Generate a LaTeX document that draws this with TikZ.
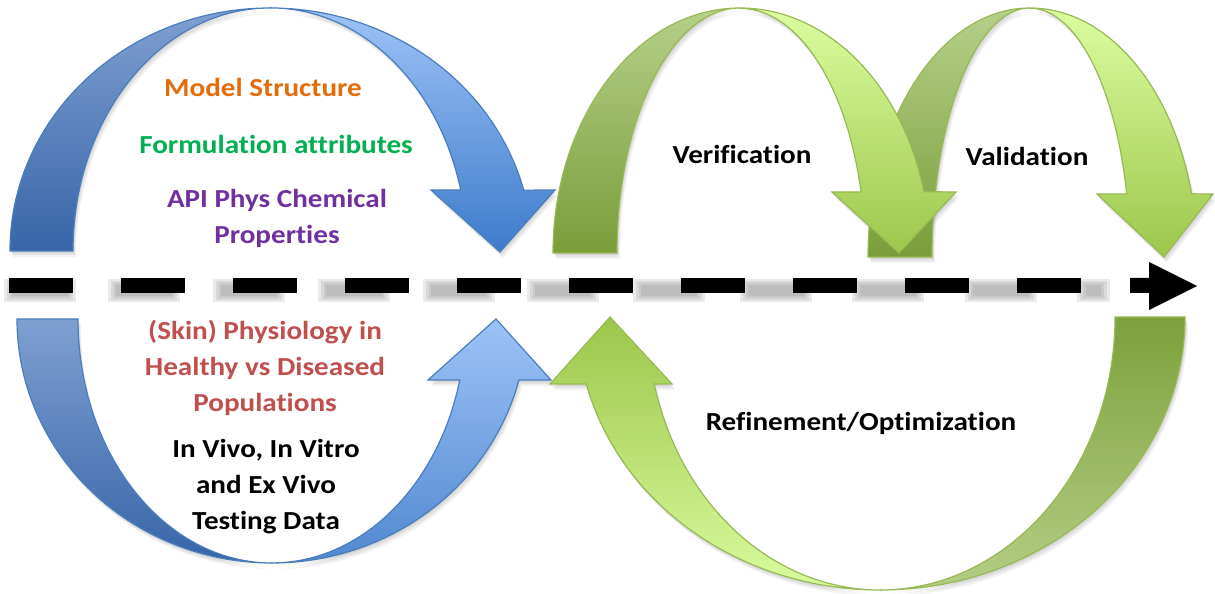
\documentclass[tikz,border=0pt]{standalone}
\usepackage{fontspec}
\setmainfont{Carlito}[FakeStretch=1.12, Ligatures={NoCommon}]
\definecolor{bLtop}{HTML}{7F9FD1}
\definecolor{bLbot}{HTML}{3765A8}
\definecolor{bRtop}{HTML}{9DC3F7}
\definecolor{bRbot}{HTML}{3E7BCB}
\definecolor{bEdge}{HTML}{4A7EBB}
\definecolor{gLtop}{HTML}{B5D08A}
\definecolor{gLbot}{HTML}{7A9D3A}
\definecolor{gRtop}{HTML}{DCFDA0}
\definecolor{gRbot}{HTML}{9CC74C}
\definecolor{gEdge}{HTML}{98B954}
\definecolor{rLtop}{HTML}{9CC64B}
\definecolor{rLbot}{HTML}{D9FB9E}
\definecolor{rRtop}{HTML}{7DA13C}
\definecolor{rRbot}{HTML}{B4CE86}
\definecolor{cOrange}{HTML}{E46C0A}
\definecolor{cGreen}{HTML}{00B050}
\definecolor{cPurple}{HTML}{7030A0}
\definecolor{cRed}{HTML}{C0504D}
\definecolor{dashShadow}{HTML}{808080}
% blue top arrow
\newcommand\pBTL{(10,343) arc[start angle=180,end angle=90,x radius=260pt,y radius=243pt] arc[start angle=90,end angle=180,x radius=197pt,y radius=243pt] -- cycle}
\newcommand\pBTR{(270,586) arc[start angle=90,end angle=14.5,x radius=262pt,y radius=243pt] -- (555,404) -- (500,342) -- (431,404) -- (460.7,404) arc[start angle=14.5,end angle=90,x radius=197pt,y radius=243pt] -- cycle}
% blue bottom arrow
\newcommand\pBBL{(17,275) arc[start angle=180,end angle=270,x radius=255pt,y radius=244pt] arc[start angle=270,end angle=180,x radius=194pt,y radius=244pt] -- cycle}
\newcommand\pBBR{(272,31) arc[start angle=270,end angle=345.5,x radius=255pt,y radius=244pt] -- (551,214) -- (496,275) -- (428,214) -- (459.8,214) arc[start angle=345.5,end angle=270,x radius=194pt,y radius=244pt] -- cycle}
% verification arrow
\newcommand\pVeL{(553,341) arc[start angle=180,end angle=90,x radius=187pt,y radius=245pt] arc[start angle=90,end angle=180,x radius=123pt,y radius=245pt] -- cycle}
\newcommand\pVeR{(740,586) arc[start angle=90,end angle=14.5,x radius=190pt,y radius=245pt] -- (956,402) -- (899,341) -- (832,402) -- (861,402) arc[start angle=14.5,end angle=90,x radius=125pt,y radius=245pt] -- cycle}
% validation arrow
\newcommand\pVaL{(868,337) arc[start angle=180,end angle=90,x radius=162pt,y radius=249pt] arc[start angle=90,end angle=180,x radius=98pt,y radius=249pt] -- cycle}
\newcommand\pVaR{(1030,586) arc[start angle=90,end angle=14.7,x radius=167pt,y radius=249pt] -- (1213,400) -- (1164,337) -- (1097,400) -- (1126.7,400) arc[start angle=14.7,end angle=90,x radius=100pt,y radius=249pt] -- cycle}
% refinement arrow
\newcommand\pReR{(1185,277) arc[start angle=0,end angle=-90,x radius=305pt,y radius=273pt] arc[start angle=-90,end angle=0,x radius=235pt,y radius=273pt] -- cycle}
\newcommand\pReL{(880,4) arc[start angle=270,end angle=194.2,x radius=303pt,y radius=273pt] -- (550,210) -- (610,277) -- (672,210) -- (654.2,210) arc[start angle=194.2,end angle=270,x radius=233pt,y radius=273pt] -- cycle}
\newcommand\shd[1]{%
  \fill[black,opacity=.06,xshift=1pt,yshift=-2pt] #1;
  \fill[black,opacity=.06,xshift=2pt,yshift=-4pt] #1;
  \fill[black,opacity=.05,xshift=3pt,yshift=-6pt] #1;}
\tikzset{
  txt/.style={font=\fontsize{26}{36}\selectfont\bfseries, align=center, inner sep=0pt},
  bluepart/.style={draw=bEdge, line width=1.2pt, line join=miter},
  greenpart/.style={draw=gEdge, line width=1.2pt, line join=miter},
  dshad/.style={fill=dashShadow, opacity=.16},
}
\begin{document}
\begin{tikzpicture}[x=1pt,y=1pt]
\useasboundingbox (0,0) rectangle (1215,594);
\fill[white] (0,0) rectangle (1215,594);
% ---- dashed time line: soft shadow
\foreach \x/\s in {9/0,121/8,233/15,345/22,457/29,569/37,681/43,793/48,905/48,1017/47}{
  \fill[dshad] (\x-\s-5,292) rectangle (\x-\s+67,315);
  \fill[dshad] (\x-\s-2,294) rectangle (\x-\s+64,313);
  \fill[dshad] (\x-\s+1,296) rectangle (\x-\s+61,311);
  \fill[dshad] (\x-\s+3,298) rectangle (\x-\s+59,309);
}
\fill[dshad] (1077,292) rectangle (1110,315);
\fill[dshad] (1080,294) rectangle (1107,313);
\fill[dshad] (1083,296) rectangle (1104,311);
\fill[dshad] (1086,298) rectangle (1101,309);
% ---- dashes
\foreach \x in {9,121,233,345,457,569,681,793,905,1017}{
  \fill[black] (\x,301) rectangle ++(64,15);
}
\fill[black] (1130,301) -- (1149,301) -- (1149,284) -- (1197,308) -- (1149,332) -- (1149,316) -- (1130,316) -- cycle;
% ---- shadows of arrows
\shd{\pBTL}\shd{\pBTR}\shd{\pBBL}\shd{\pBBR}
\shd{\pVaL}\shd{\pVaR}\shd{\pVeL}\shd{\pVeR}
\shd{\pReL}\shd{\pReR}
% ---- blue arrows
\shadedraw[bluepart, top color=bLtop, bottom color=bLbot] \pBTL;
\shadedraw[bluepart, top color=bRtop, bottom color=bRbot] \pBTR;
\shadedraw[bluepart, top color=bLtop, bottom color=bLbot] \pBBL;
\shadedraw[bluepart, top color=bRtop, bottom color=bRbot!90!white] \pBBR;
% ---- green top arrows
\shadedraw[greenpart, top color=gLtop, bottom color=gLbot] \pVaL;
\shadedraw[greenpart, top color=gRtop, bottom color=gRbot] \pVaR;
\shadedraw[greenpart, top color=gLtop, bottom color=gLbot] \pVeL;
\shadedraw[greenpart, top color=gRtop, bottom color=gRbot] \pVeR;
% ---- green bottom arrow
\shadedraw[greenpart, top color=rRtop, bottom color=rRbot] \pReR;
\shadedraw[greenpart, top color=rLtop, bottom color=rLbot] \pReL;
% ---- texts
\node[txt, text=cOrange] (ms) at (263,507) {Model Structure};
\node[txt, text=cGreen] (fa) at (276,450) {Formulation attributes};
\node[txt, text=cPurple] (api) at (277,376) {API Phys Chemical\\Properties};
\node[txt, text=cRed] (skin) at (265,226) {(Skin) Physiology in\\Healthy vs Diseased\\Populations};
\node[txt, text=black] (vivo) at (266,107) {In Vivo, In Vitro\\and Ex Vivo\\Testing Data};
\node[txt, text=black] (ver) at (742,440) {Verification};
\node[txt, text=black] (val) at (1027,438) {Validation};
\node[txt, text=black] (ref) at (861,171) {Refinement/Optimization};
\end{tikzpicture}
\end{document}
